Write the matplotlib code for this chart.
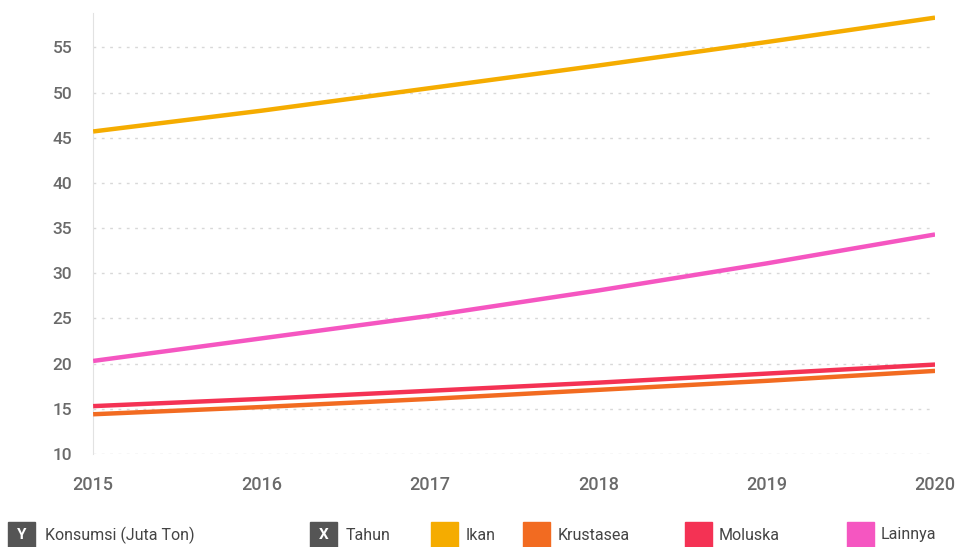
import matplotlib.pyplot as plt
from matplotlib.patches import Rectangle

plt.rcParams['font.family'] = ['Roboto', 'DejaVu Sans']

# Konsumsi produk perikanan per tahun (juta ton)
tahun = [2015, 2016, 2017, 2018, 2019, 2020]
ikan = [45.7, 48.0, 50.5, 53.0, 55.6, 58.3]
krustasea = [14.4, 15.2, 16.1, 17.1, 18.1, 19.2]
moluska = [15.3, 16.1, 17.0, 17.9, 18.9, 19.9]
lainnya = [20.3, 22.8, 25.3, 28.1, 31.1, 34.3]

seri = ['Ikan', 'Krustasea', 'Moluska', 'Lainnya']
warna = ['#F5AC00', '#F26B21', '#F43254', '#F556C1']
yticks = [10, 15, 20, 25, 30, 35, 40, 45, 50, 55]

fig = plt.figure(figsize=(9.6, 5.47), dpi=100)
ax = fig.add_axes([0.097, 0.170, 0.877, 0.806])

for nama, data, c in zip(seri, [ikan, krustasea, moluska, lainnya], warna):
    ax.plot(tahun, data, color=c, lw=3.2, solid_capstyle='butt', label=nama, zorder=3)

ax.set_xlim(2015, 2020)
ax.set_ylim(10, 58.8)
ax.set_yticks(yticks)
ax.set_xticks(tahun)
ax.grid(axis='y', color='#d8d8d8', lw=1, ls=(0, (2, 4)))
ax.grid(axis='x', visible=False)
for s in ['top', 'right', 'bottom']:
    ax.spines[s].set_visible(False)
ax.spines['left'].set_color('#e2e2e2')
ax.tick_params(axis='both', length=0, labelsize=12.5, colors='#6a6a6a')
ax.tick_params(axis='y', pad=15)
ax.tick_params(axis='x', pad=16, labelsize=13)
for lbl in ax.get_xticklabels() + ax.get_yticklabels():
    lbl.set_fontweight('medium')

# legenda di bawah grafik
ly = 1 - 535 / 547
bw, bh = 27 / 960, 27 / 547
def kotak(x_px, c, huruf=None):
    fig.patches.append(Rectangle((x_px / 960, ly - bh / 2), bw, bh,
                                 transform=fig.transFigure, color=c))
    if huruf:
        fig.text(x_px / 960 + bw / 2, ly, huruf, color='white', fontsize=11,
                 fontweight='bold', ha='center', va='center')

kotak(8, '#555555', 'Y')
fig.text(45 / 960, ly, 'Konsumsi (Juta Ton)', fontsize=11.5, color='#444444', va='center')
kotak(310, '#555555', 'X')
fig.text(346 / 960, ly, 'Tahun', fontsize=11.5, color='#444444', va='center')
for x_kotak, x_teks, nama, c in zip([431, 523, 685, 847], [466, 558, 719, 881], seri, warna):
    kotak(x_kotak, c)
    fig.text(x_teks / 960, ly, nama, fontsize=11.5, color='#444444', va='center')

fig.savefig('out.png', dpi=100)
